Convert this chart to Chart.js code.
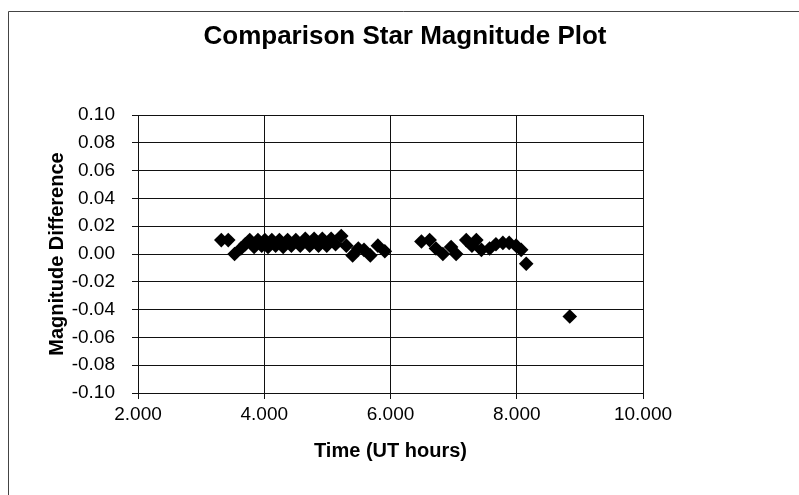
<!DOCTYPE html>
<html>
<head>
<meta charset="utf-8">
<script src="https://cdn.jsdelivr.net/npm/chart.js@4/dist/chart.umd.min.js"></script>
<style>
  html, body { margin: 0; padding: 0; background: #fff; }
  #wrap { width: 799px; height: 495px; }
</style>
</head>
<body>
<div id="wrap"><canvas id="c" width="799" height="495"></canvas></div>
<script>
// ---- Data ----
const chartTitle = 'Comparison Star Magnitude Plot';
const xAxisTitle = 'Time (UT hours)';
const yAxisTitle = 'Magnitude Difference';

const timeHours = [
  3.32, 3.43, 3.53, 3.63, 3.70, 3.77, 3.84, 3.90, 3.96, 4.01,
  4.06, 4.12, 4.18, 4.24, 4.30, 4.37, 4.43, 4.50, 4.57, 4.65,
  4.72, 4.79, 4.86, 4.92, 4.99, 5.06, 5.13, 5.22, 5.30, 5.40,
  5.49, 5.58, 5.68, 5.80, 5.91,
  6.49, 6.62, 6.72, 6.83, 6.96, 7.04, 7.20, 7.29, 7.36, 7.44,
  7.57, 7.67, 7.78, 7.88, 7.99, 8.07, 8.15, 8.84
];
const magDiff = [
  0.010, 0.010, 0.000, 0.004, 0.007, 0.010, 0.005, 0.010, 0.006, 0.010,
  0.005, 0.010, 0.006, 0.010, 0.005, 0.010, 0.006, 0.010, 0.006, 0.011,
  0.006, 0.011, 0.006, 0.011, 0.006, 0.011, 0.007, 0.013, 0.006, -0.001,
  0.004, 0.003, -0.001, 0.006, 0.002,
  0.009, 0.010, 0.004, 0.000, 0.005, 0.000, 0.010, 0.006, 0.010, 0.003,
  0.004, 0.007, 0.008, 0.008, 0.006, 0.003, -0.007, -0.045
];

const xMin = 2, xMax = 10, xStep = 2;
const yMin = -0.1, yMax = 0.1, yStep = 0.02;

const FONT = "'Liberation Sans', Arial, Helvetica, sans-serif";

const points = timeHours.map((t, i) => ({ x: t, y: magDiff[i] }));

// white background, scanned-page frame, and the chart title
const framePlugin = {
  id: 'frame',
  beforeDraw(chart) {
    const c = chart.ctx;
    c.save();
    c.fillStyle = '#fff';
    c.fillRect(0, 0, chart.width, chart.height);
    c.strokeStyle = '#444';
    c.lineWidth = 1;
    c.beginPath();
    c.moveTo(8.5, chart.height);
    c.lineTo(8.5, 11.5);
    c.lineTo(chart.width, 11.5);
    c.stroke();
    c.fillStyle = '#000';
    c.font = "bold 26px " + FONT;
    c.textAlign = 'center';
    c.textBaseline = 'middle';
    c.fillText(chartTitle, 405, 37);
    c.restore();
  }
};

new Chart(document.getElementById('c'), {
  type: 'scatter',
  data: {
    datasets: [{
      data: points,
      pointStyle: 'rectRot',
      pointRadius: 7.3,
      pointHoverRadius: 7.3,
      backgroundColor: '#000',
      borderColor: '#000',
      borderWidth: 0
    }]
  },
  options: {
    responsive: false,
    animation: false,
    devicePixelRatio: 1,
    layout: { padding: { left: 8, right: 156, top: 115, bottom: 0 } },
    plugins: {
      legend: { display: false },
      tooltip: { enabled: false },
      title: { display: false }
    },
    scales: {
      x: {
        type: 'linear',
        min: xMin, max: xMax,
        afterFit(s) { s.height = 102; },
        ticks: {
          stepSize: xStep,
          color: '#000',
          font: { family: FONT, size: 19 },
          padding: 4,
          maxRotation: 0,
          callback: v => Number(v).toFixed(3)
        },
        grid: { color: '#111', lineWidth: 1, tickLength: 6 },
        border: { color: '#111' },
        title: {
          display: true,
          text: xAxisTitle,
          color: '#000',
          font: { family: FONT, size: 20, weight: 'bold' },
          padding: { top: 0, bottom: 32 }
        }
      },
      y: {
        type: 'linear',
        min: yMin, max: yMax,
        afterFit(s) { s.width = 130; },
        ticks: {
          stepSize: yStep,
          color: '#000',
          font: { family: FONT, size: 19 },
          padding: 17,
          callback: v => Number(v).toFixed(2)
        },
        grid: { color: '#111', lineWidth: 1, tickLength: 6 },
        border: { color: '#111' },
        title: {
          display: true,
          text: yAxisTitle,
          color: '#000',
          font: { family: FONT, size: 20, weight: 'bold' },
          padding: { top: 37, bottom: 0 }
        }
      }
    }
  },
  plugins: [framePlugin]
});
</script>
</body>
</html>
